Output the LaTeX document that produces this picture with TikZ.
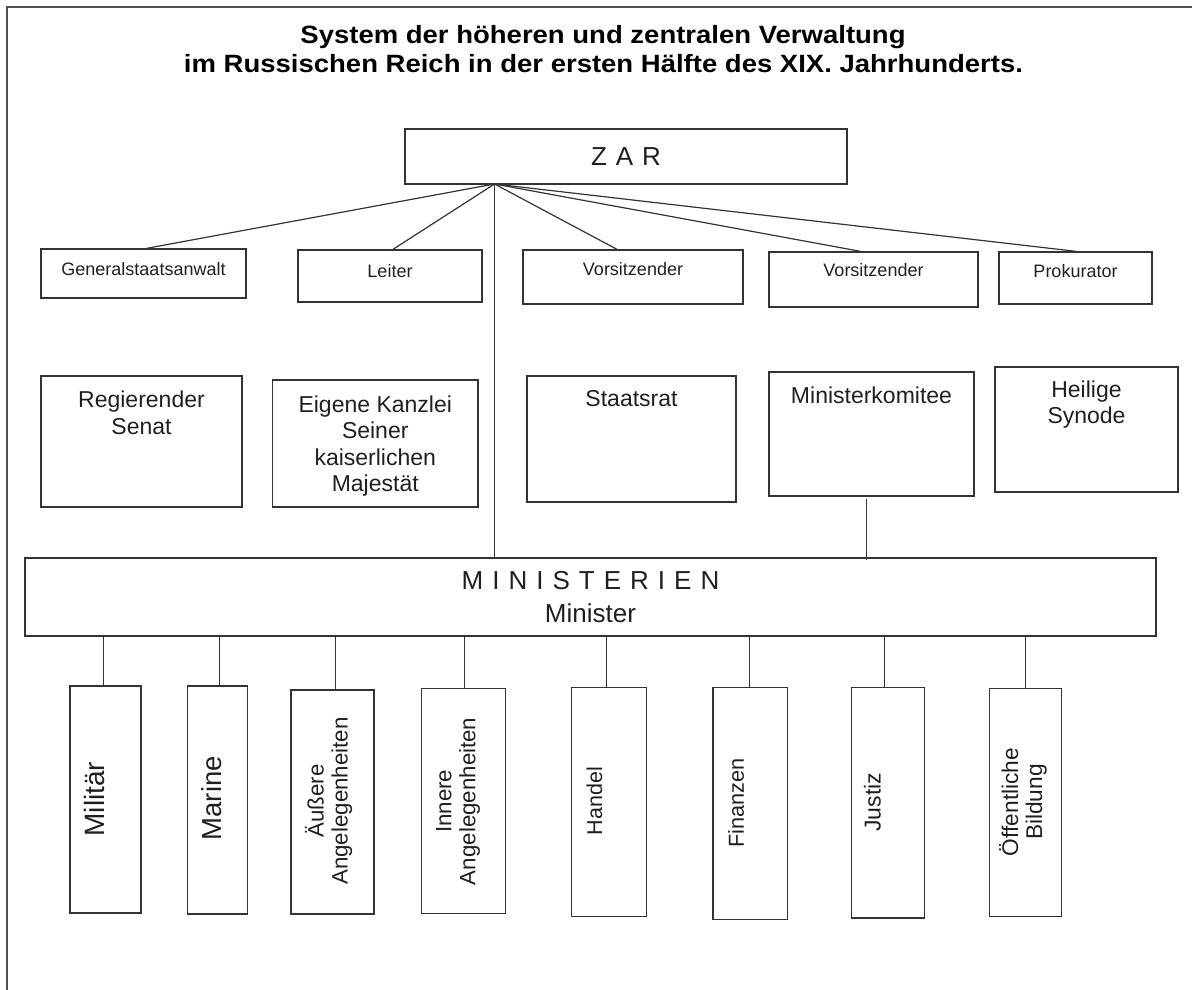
\documentclass[tikz,border=0pt]{standalone}
\usepackage{fontspec}
\setmainfont{Liberation Sans}
\usetikzlibrary{calc}
\newcommand\widewordgaps{\spaceskip 9pt\relax}
\newcommand\widetitle[1]{\scalebox{1.1}[1]{#1}}
\begin{document}
\begin{tikzpicture}[x=1pt,y=-1pt]
\tikzset{
  frame/.style={draw=black!68, line width=2.4pt},
  box/.style={draw=black!80, line width=1.3pt, rectangle, inner sep=0pt},
  link/.style={draw=black!80, line width=1.2pt},
  lbl/.style={inner sep=0pt, text=black!88, align=center},
  titletext/.style={lbl, anchor=base, text=black, font=\bfseries\fontsize{25}{30}\selectfont},
  toptext/.style={lbl, font=\fontsize{18}{21}\selectfont},
  midtext/.style={lbl, font=\fontsize{23}{26.5}\selectfont},
  sidetext/.style={lbl, rotate=90},
  spaced/.style={lbl, font={\fontsize{26}{32.7}\selectfont\widewordgaps}},
}
\useasboundingbox (0,0) rectangle (1192,990);

% page frame: only the top and left edges are visible
\draw[frame] (7,990) -- (7,7) -- (1192,7);

% title, set in a slightly widened bold face
\node[titletext] (title1) at (603,43.5) {\widetitle{System der höheren und zentralen Verwaltung}};
\node[titletext] (title2) at (603.5,73) {\widetitle{im Russischen Reich in der ersten Hälfte des XIX. Jahrhunderts.}};

% the tsar
\node[box, spaced, minimum width=442pt, minimum height=55pt] (zar) at (626,156.5) {Z A R};
\coordinate (fan) at (494.5,184);

% officials directly under the tsar
\node[box, minimum width=205pt, minimum height=49pt] (gsa)    at (143.5,273.5) {};
\node[box, minimum width=184pt, minimum height=52pt] (leiter) at (390,276) {};
\node[box, minimum width=220pt, minimum height=54pt] (vors1)  at (633,277) {};
\node[box, minimum width=209pt, minimum height=55pt] (vors2)  at (873.5,279.5) {};
\node[box, minimum width=153pt, minimum height=52pt] (prok)   at (1075.5,278) {};
\node[toptext] (gsa-t)    at ($(gsa.north)+(0,21)$)    {Generalstaatsanwalt};
\node[toptext] (leiter-t) at ($(leiter.north)+(0,21.5)$) {Leiter};
\node[toptext] (vors1-t)  at ($(vors1.north)+(0,20)$)  {Vorsitzender};
\node[toptext] (vors2-t)  at ($(vors2.north)+(0,18.5)$)  {Vorsitzender};
\node[toptext] (prok-t)   at ($(prok.north)+(0,19.5)$)   {Prokurator};

% higher state bodies
\node[box, minimum width=201pt,   minimum height=131pt] (senat)     at (141.5,441.5) {};
\node[box, minimum width=205.5pt, minimum height=127pt] (kanzlei)   at (375.25,443.5) {};
\node[box, minimum width=209pt,   minimum height=126pt] (staatsrat) at (631.5,439) {};
\node[box, minimum width=205pt,   minimum height=124pt] (komitee)   at (871.5,434) {};
\node[box, minimum width=183pt,   minimum height=125pt] (synode)    at (1086.5,429.5) {};
\node[midtext] (senat-t)     at ($(senat.north)+(0,37.5)$)   {Regierender\\Senat};
\node[midtext] (kanzlei-t)   at ($(kanzlei.north)+(0,66.5)$) {Eigene Kanzlei\\Seiner\\kaiserlichen\\Majestät};
\node[midtext] (staatsrat-t) at ($(staatsrat.north)+(0,23)$) {Staatsrat};
\node[midtext] (komitee-t)   at ($(komitee.north)+(0,24)$)   {Ministerkomitee};
\node[midtext] (synode-t)    at ($(synode.north)+(0,38)$)    {Heilige\\Synode};

% ministries
\node[box, spaced, minimum width=1131pt, minimum height=78pt] (min) at (590.5,597)
  {M I N I S T E R I E N\\Minister};

% single ministries
\node[box, minimum width=71pt,   minimum height=227pt]   (mil) at (105.5,799.5) {};
\node[box, minimum width=60pt,   minimum height=228pt]   (mar) at (217.5,800) {};
\node[box, minimum width=83pt,   minimum height=224pt]   (aus) at (332.5,802) {};
\node[box, minimum width=84pt,   minimum height=225pt]   (inn) at (463.6,801.3) {};
\node[box, minimum width=75pt,   minimum height=229pt]   (han) at (609.3,802.2) {};
\node[box, minimum width=74.6pt, minimum height=231.6pt] (fin) at (750.3,803.5) {};
\node[box, minimum width=73.3pt, minimum height=230.3pt] (jus) at (888,802.8) {};
\node[box, minimum width=72pt,   minimum height=228pt]   (oef) at (1025.6,802.7) {};
\node[sidetext, font=\fontsize{28}{30}\selectfont]   (mil-t) at ($(mil)+(-10.7,-0.5)$) {Militär};
\node[sidetext, font=\fontsize{27.5}{30}\selectfont] (mar-t) at ($(mar)+(-5.5,-1.7)$) {Marine};
\node[sidetext, font=\fontsize{22.3}{24}\selectfont] (aus-t) at ($(aus)+(-3.8,-1)$) {Äußere\\Angelegenheiten};
\node[sidetext, font=\fontsize{22.3}{24}\selectfont] (inn-t) at ($(inn)+(-5.6,0)$) {Innere\\Angelegenheiten};
\node[sidetext, font=\fontsize{21.5}{24}\selectfont] (han-t) at ($(han)+(-14.8,-1.2)$) {Handel};
\node[sidetext, font=\fontsize{21.7}{24}\selectfont] (fin-t) at ($(fin)+(-14.3,-0.8)$) {Finanzen};
\node[sidetext, font=\fontsize{23}{24}\selectfont]   (jus-t) at ($(jus)+(-15.5,-0.5)$) {Justiz};
\node[sidetext, font=\fontsize{22.7}{24}\selectfont] (oef-t) at ($(oef)+(-2.6,-0.7)$) {Öffentliche\\Bildung};

% fan from the tsar to the officials
\draw[link] (fan) -- ($(gsa.north)+(3.1,0)$);
\draw[link] (fan) -- ($(leiter.north)+(3,0)$);
\draw[link] (fan) -- ($(vors1.north)+(-16,0)$);
\draw[link] (fan) -- ($(vors2.north)+(-13,0)$);
\draw[link] (fan) -- ($(prok.north)+(0.5,0)$);

% tsar to ministries, committee to ministries
\draw[link] (fan) -- (fan |- min.north);
\draw[link] ($(komitee.south)+(-5,2.5)$) -- ($(komitee.south |- min.north)+(-5,2.5)$);

% ministries to the single ministries
\draw[link] ($(min.south -| mil.north)+(-2.3,0)$) -- ($(mil.north)+(-2.3,0)$);
\draw[link] ($(min.south -| mar.north)+(1.8,0)$)  -- ($(mar.north)+(1.8,0)$);
\draw[link] ($(min.south -| aus.north)+(3.1,0)$)  -- ($(aus.north)+(3.1,0)$);
\draw[link] ($(min.south -| inn.north)+(0.6,0)$)  -- ($(inn.north)+(0.6,0)$);
\draw[link] ($(min.south -| han.north)+(-2.5,0)$) -- ($(han.north)+(-2.5,0)$);
\draw[link] ($(min.south -| fin.north)+(-1.2,0)$) -- ($(fin.north)+(-1.2,0)$);
\draw[link] ($(min.south -| jus.north)+(-3.4,0)$) -- ($(jus.north)+(-3.4,0)$);
\draw[link] ($(min.south -| oef.north)+(0.2,0)$)  -- ($(oef.north)+(0.2,0)$);
\end{tikzpicture}
\end{document}
